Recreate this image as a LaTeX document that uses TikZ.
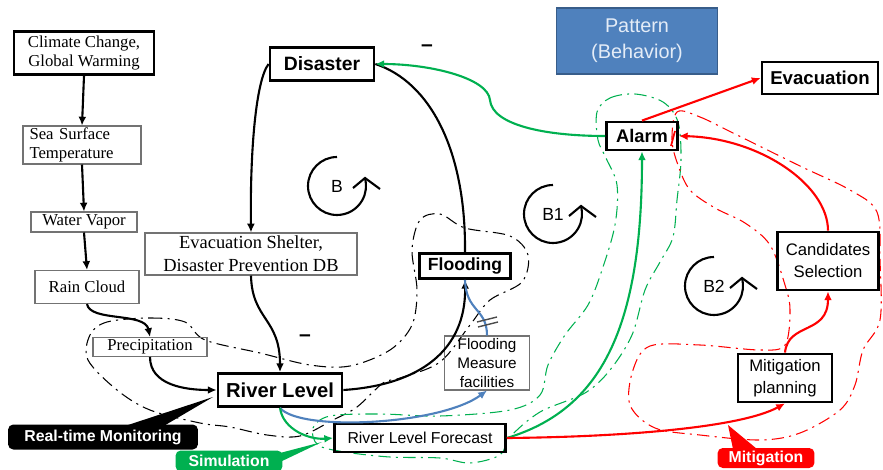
\documentclass[tikz,border=0pt]{standalone}
\usepackage{fontspec}
\setmainfont{Liberation Serif}
\setsansfont{Liberation Sans}
\usetikzlibrary{arrows.meta}
\definecolor{simgreen}{RGB}{0,176,80}
\definecolor{mitred}{RGB}{255,0,0}
\definecolor{flowblue}{RGB}{79,129,189}
\definecolor{patternedge}{RGB}{56,93,138}
\definecolor{patterntext}{RGB}{228,236,247}
\begin{document}
\begin{tikzpicture}[x=0.02cm, y=-0.02cm,
    cause/.style={draw=black!55, line width=0.6pt, inner sep=0pt, align=center, font=\fontsize{9.5}{10.8}\selectfont},
    factor/.style={draw, line width=1.6pt, inner sep=0pt, align=center, font=\sffamily\fontsize{9.5}{12.5}\selectfont},
    keyfactor/.style={factor, font=\sffamily\bfseries\fontsize{11}{13}\selectfont},
    link/.style={line width=1.2pt, -{Latex[length=5pt,width=4.5pt]}},
    region/.style={line width=0.6pt, dash pattern=on 7pt off 3pt on 1.2pt off 3pt},
    callout/.style={rounded corners=3pt, inner sep=0pt, text=white, font=\sffamily\bfseries\fontsize{9}{10}\selectfont},
    loopname/.style={font=\sffamily\fontsize{10}{12}\selectfont},
    polarity/.style={font=\sffamily\bfseries\fontsize{12}{12}\selectfont, inner sep=0pt}]
    \useasboundingbox (0,0) rectangle (883,470);
    \draw[region] plot[smooth cycle, tension=0.55] coordinates {(107,322) (150,318) (185,322) (205,340) (260,353) (310,365) (350,366) (390,350) (412,325) (417,290) (412,250) (420,220) (440,214) (465,228) (510,236) (528,255) (522,282) (490,300) (470,325) (440,362) (400,378) (383,383) (357,407) (333,420) (300,436) (267,435) (230,427) (200,423) (150,410) (117,390) (88,360) (90,335)};
    \draw[region, simgreen] plot[smooth cycle, tension=0.55] coordinates {(597,112) (610,98) (635,94) (663,102) (678,122) (681,160) (677,200) (673,237) (660,262) (645,290) (632,335) (610,370) (585,393) (540,412) (510,437) (500,455) (470,463) (440,458) (390,457) (345,452) (318,445) (313,428) (330,416) (380,414) (440,416) (510,410) (540,395) (548,365) (565,335) (588,305) (602,270) (615,225) (617,185) (606,158) (598,140)};
    \draw[region, mitred] plot[smooth cycle, tension=0.55] coordinates {(677,112) (700,117) (735,134) (800,166) (850,190) (877,212) (880,260) (880,320) (863,350) (855,385) (840,410) (800,433) (760,440) (700,435) (655,428) (630,405) (633,370) (650,346) (700,345) (760,350) (785,345) (790,310) (785,285) (770,245) (745,223) (715,208) (690,190) (678,165) (672,140)};
    \node[cause, draw=black, line width=1.6pt, minimum width=2.8cm, minimum height=0.86cm] (climate) at (84,53) {Climate Change,\\Global Warming};
    \node[cause, minimum width=2.36cm, minimum height=0.76cm, align=left, text width=2.1cm] (sea) at (82,145) {Sea Surface\\Temperature};
    \node[cause, minimum width=2.12cm, minimum height=0.4cm] (vapor) at (84,222) {Water Vapor};
    \node[cause, minimum width=2.08cm, minimum height=0.66cm] (rain) at (87,287) {Rain Cloud};
    \node[cause, minimum width=2.28cm, minimum height=0.38cm] (precip) at (150,347) {Precipitation};
    \node[cause, minimum width=4.24cm, minimum height=0.84cm, font=\fontsize{10.5}{13}\selectfont] (shelter) at (251,254) {Evacuation Shelter,\\Disaster Prevention DB};
    \node[keyfactor, minimum width=2.08cm, minimum height=0.66cm] (disaster) at (322,64) {Disaster};
    \node[keyfactor, minimum width=2.48cm, minimum height=0.66cm, font=\sffamily\bfseries\fontsize{11.5}{13}\selectfont] (river) at (280,390) {River Level};
    \node[factor, minimum width=3.42cm, minimum height=0.56cm, font=\sffamily\fontsize{9}{11}\selectfont] (forecast) at (420,438) {River Level Forecast};
    \node[keyfactor, minimum width=1.82cm, minimum height=0.5cm, font=\sffamily\bfseries\fontsize{10}{12}\selectfont] (flooding) at (465,266) {Flooding};
    \node[factor, draw=black!55, line width=0.6pt, minimum width=1.7cm, minimum height=1.08cm, font=\sffamily\fontsize{8.7}{11}\selectfont] (measure) at (487,363) {Flooding\\Measure\\facilities};
    \node[keyfactor, minimum width=1.42cm, minimum height=0.56cm, font=\sffamily\bfseries\fontsize{10.4}{12}\selectfont] (alarm) at (642,136) {Alarm};
    \node[keyfactor, minimum width=2.32cm, minimum height=0.64cm, font=\sffamily\bfseries\fontsize{10.6}{12}\selectfont] (evacuation) at (820,78) {Evacuation};
    \node[factor, minimum width=2.02cm, minimum height=1.16cm] (candidates) at (828,261) {Candidates\\Selection};
    \node[factor, minimum width=1.88cm, minimum height=0.96cm] (mitigation) at (785,378) {Mitigation\\planning};
    \node[fill=flowblue, draw=patternedge, line width=0.6pt, minimum width=3.22cm, minimum height=1.32cm, align=center, text=patterntext, font=\sffamily\fontsize{11.3}{14.7}\selectfont] (pattern) at (637,41) {Pattern\\(Behavior)};
    \foreach \name/\cx/\cy/\txt in {loopB/337/186/B, loopBa/553/214/B1, loopBb/714/286/B2} {
        \node[loopname] (\name) at (\cx,\cy) {\txt};
        \draw[line width=1.2pt] (\cx,\cy) ++(-90:29) arc[start angle=-90, end angle=-376, radius=29];
        \draw[line width=1.2pt] (\cx+16,\cy+2) -- (\cx+28,\cy-8) -- (\cx+43,\cy+3);
    }
    \node[polarity] (minusA) at (427,48) {–};
    \node[polarity] (minusB) at (305,338) {–};
    \draw[link] (climate.south) -- (sea.north);
    \draw[link] (sea.south) -- (vapor.north);
    \draw[link] (vapor.south) -- (rain.north);
    \draw[link] (rain.south) .. controls (90,322) and (145,312) .. (precip.north);
    \draw[link] (precip.south) .. controls (150,385) and (185,390) .. (river.west);
    \draw[link] (disaster.west) .. controls (256,80) and (250,150) .. (shelter.north);
    \draw[link] (shelter.south) .. controls (252,320) and (280,318) .. (river.north);
    \draw[link] (river.east) .. controls (420,385) and (466,350) .. (flooding.south);
    \draw[line width=1.2pt] (flooding.north) .. controls (466,150) and (430,82) .. (disaster.east);
    \draw[link, flowblue] (river.south) .. controls (300,432) and (440,425) .. (measure.south);
    \draw[line width=1.2pt, flowblue] (measure.north) .. controls (487,308) and (466,312) .. (flooding.south);
    \draw[black!70, line width=0.8pt] (477,322) -- (497,317) (478,327) -- (498,322);
    \draw[link, simgreen] (river.south) .. controls (283,430) and (310,440) .. (forecast.west);
    \draw[link, simgreen] (forecast.east) .. controls (600,410) and (642,330) .. (alarm.south);
    \draw[link, simgreen] (alarm.west) .. controls (545,136) and (492,125) .. (490,100) .. controls (488,78) and (430,64) .. (disaster.east);
    \draw[link, mitred] (alarm.north) -- (evacuation.west);
    \draw[link, mitred] (candidates.north) .. controls (828,185) and (760,138) .. (alarm.east);
    \draw[link, mitred] (mitigation.north) .. controls (788,322) and (828,335) .. (candidates.south);
    \draw[link, mitred] (forecast.east) .. controls (620,437) and (740,428) .. (mitigation.south);
    \draw[mitred, line width=1pt] (671,146) -- (675,131);
    \node[callout, fill=black, minimum width=3.8cm, minimum height=0.5cm] (monitoring) at (103,437) {Real-time Monitoring};
    \fill (122,427) -- (213,397) -- (162,427) -- cycle;
    \node[callout, fill=simgreen, minimum width=2.14cm, minimum height=0.42cm] (simulation) at (229,461) {Simulation};
    \fill[simgreen] (280,453) -- (322,442) -- (280,462) -- cycle;
    \node[callout, fill=mitred, minimum width=1.94cm, minimum height=0.4cm] (mitigationlabel) at (766,458) {Mitigation};
    \fill[mitred] (733,449) -- (728,425) -- (757,449) -- cycle;
\end{tikzpicture}
\end{document}
